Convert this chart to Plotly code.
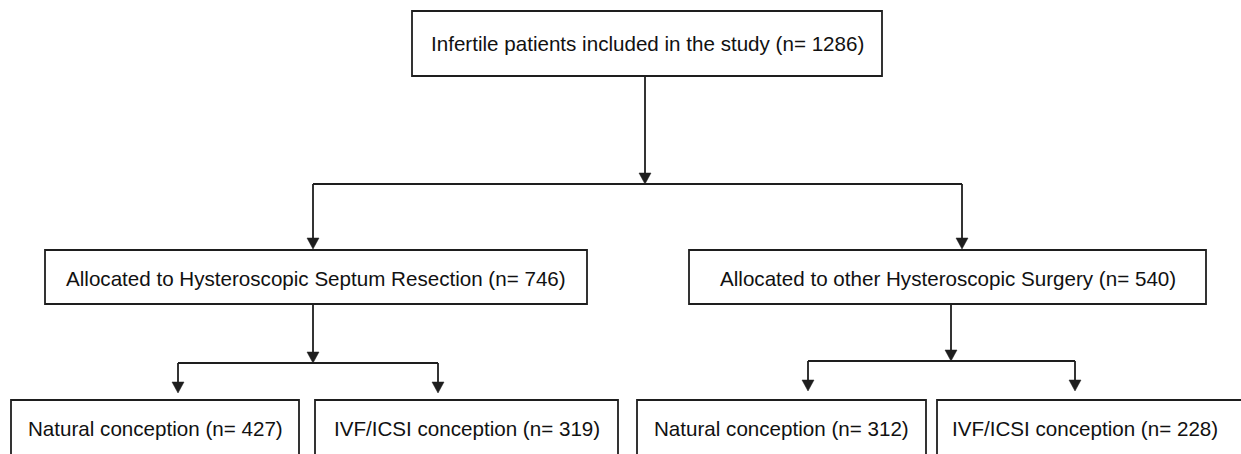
import plotly.graph_objects as go

# ---- data ----
labels = [
    "Infertile patients included in the study",
    "Allocated to Hysteroscopic Septum Resection",
    "Allocated to other Hysteroscopic Surgery",
    "Natural conception",
    "IVF/ICSI conception",
    "Natural conception",
    "IVF/ICSI conception",
]
counts = [1286, 746, 540, 427, 319, 312, 228]
parents = [None, 0, 0, 1, 1, 2, 2]

# ---- layout geometry (pixel space) ----
boxes = [
    (412, 882, 11, 76),
    (45, 587, 250, 304),
    (689, 1206, 250, 304),
    (11, 299, 400, 470),
    (315, 618, 400, 470),
    (637, 926, 400, 470),
    (937, 1250, 400, 470),
]
text_y = [43, 278, 278, 428, 428, 428, 428]

# connectors: (stem_x, stem_top, bar_y, [(drop_x, tip_y), ...])
connectors = [
    (645, 76, 184, [(313, 249), (962, 249)]),
    (313, 304, 363, [(178, 393), (438, 393)]),
    (951, 304, 361, [(808, 391), (1075, 391)]),
]

LINE = "#1e1e1e"
LW = 1.8
AH_W, AH_H = 6, 11

fig = go.Figure()
shapes = []
annotations = []


def arrow_head(x, tip):
    return dict(type="path", xref="x", yref="y",
                path=f"M {x-AH_W},{tip-AH_H} L {x+AH_W},{tip-AH_H} L {x},{tip} Z",
                fillcolor=LINE, line=dict(color=LINE, width=0.5))


for (x0, x1, y0, y1), lab, n, ty in zip(boxes, labels, counts, text_y):
    shapes.append(dict(type="rect", xref="x", yref="y", x0=x0, x1=x1, y0=y0, y1=y1,
                       line=dict(color=LINE, width=LW), fillcolor="rgba(0,0,0,0)"))
    annotations.append(dict(x=(x0 + min(x1, 1233)) / 2, y=ty, xref="x", yref="y",
                            text=f"{lab} (n= {n})", showarrow=False,
                            font=dict(family="Liberation Sans, Arial, sans-serif",
                                      size=20.6, color="#111111"),
                            xanchor="center", yanchor="middle"))

for sx, stop, by, drops in connectors:
    shapes.append(dict(type="line", xref="x", yref="y", x0=sx, x1=sx, y0=stop, y1=by - 2,
                       line=dict(color=LINE, width=LW)))
    shapes.append(arrow_head(sx, by))
    xs = [d[0] for d in drops]
    shapes.append(dict(type="line", xref="x", yref="y", x0=min(xs), x1=max(xs), y0=by, y1=by,
                       line=dict(color=LINE, width=LW)))
    for dx, tip in drops:
        shapes.append(dict(type="line", xref="x", yref="y", x0=dx, x1=dx, y0=by, y1=tip - 2,
                           line=dict(color=LINE, width=LW)))
        shapes.append(arrow_head(dx, tip))

fig.update_layout(
    width=1241, height=454,
    margin=dict(l=0, r=0, t=0, b=0),
    paper_bgcolor="white", plot_bgcolor="white",
    xaxis=dict(range=[0, 1241], visible=False, fixedrange=True),
    yaxis=dict(range=[454, 0], visible=False, fixedrange=True),
    shapes=shapes, annotations=annotations,
    showlegend=False,
)

fig.write_html("out.html",
               config={"displayModeBar": False},
               post_script="document.body.style.margin='0';document.body.style.overflow='hidden';")
